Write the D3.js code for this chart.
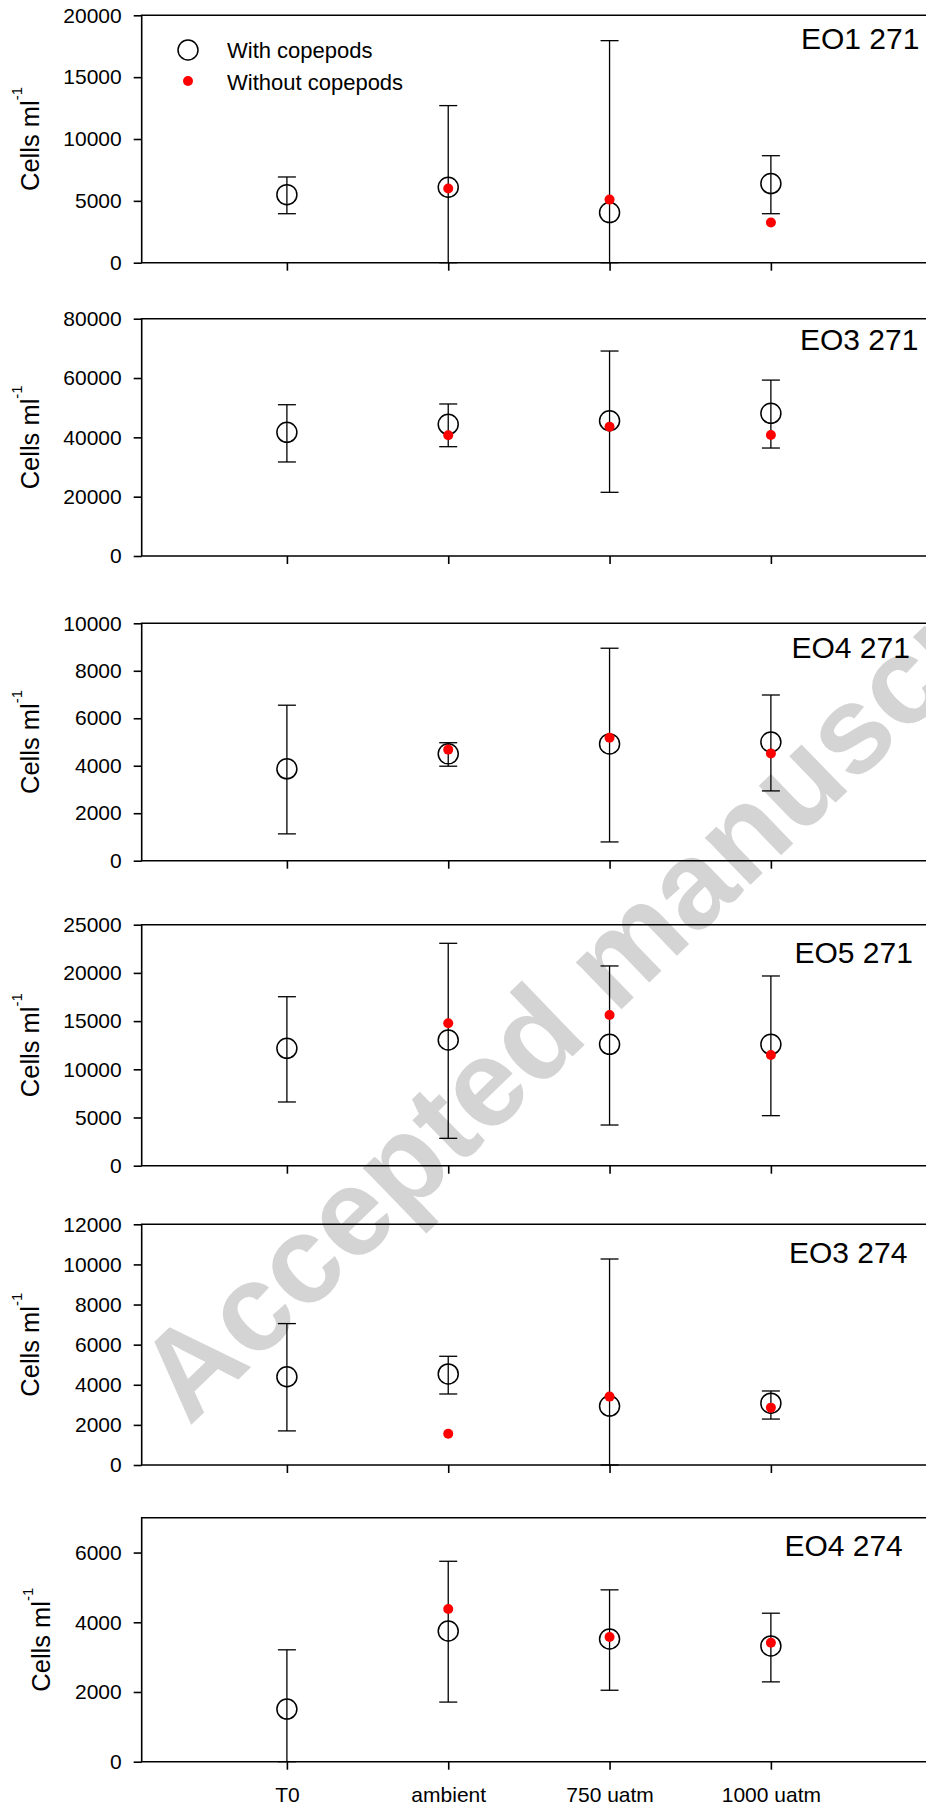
<!doctype html>
<html>
<head>
<meta charset="utf-8">
<title>Cells ml-1 by treatment</title>
<script src="https://cdn.jsdelivr.net/npm/d3@7/dist/d3.min.js"></script>
<style>
  html, body { margin: 0; padding: 0; background: #fff; }
  svg { display: block; }
  text { font-family: Arial, "Liberation Sans", sans-serif; fill: #000; }
</style>
</head>
<body>
<div id="chart"></div>
<script>
// values
const categories = ["T0", "ambient", "750 uatm", "1000 uatm"];
const panelNames = ["EO1 271", "EO3 271", "EO4 271", "EO5 271", "EO3 274", "EO4 274"];
const yMax = [20000, 80000, 10000, 25000, 12000, 7000];
const yStep = [5000, 20000, 2000, 5000, 2000, 2000];

const withCopepods = [
  [5500, 6100, 4050, 6400],
  [41700, 44400, 45600, 48100],
  [3870, 4500, 4920, 5000],
  [12180, 13040, 12590, 12590],
  [4400, 4540, 2940, 3080],
  [1510, 3750, 3520, 3320]
];
const withUpper = [
  [6930, 12700, 17950, 8650],
  [51000, 51250, 69100, 59300],
  [6550, 4970, 8950, 6980],
  [17530, 23070, 20720, 19680],
  [7050, 5420, 10270, 3690],
  [3210, 5750, 4930, 4260]
];
const withLower = [
  [3960, 0, 0, 3960],
  [31700, 36850, 21470, 36400],
  [1130, 3980, 790, 2940],
  [6610, 2840, 4220, 5190],
  [1700, 3540, 0, 2290],
  [0, 1710, 2050, 2290]
];
const withoutCopepods = [
  [null, 6000, 5100, 3250],
  [null, 40700, 43600, 40800],
  [null, 4680, 5180, 4520],
  [null, 14770, 15630, 11480],
  [null, 1560, 3410, 2860],
  [null, 4380, 3580, 3410]
];

// layout
const W = 926, H = 1809;
const axisLeft = 141.7;
const panelTop = [15.3, 318.7, 623.3, 924.7, 1224.3, 1517.7];
const panelBottom = [262.7, 556, 860.7, 1165.7, 1465, 1761.7];
const titlePos = [[801, 49.3], [800, 350], [791.5, 658.3], [794.5, 963.3], [789, 1263.3], [784.4, 1556]];

const svg = d3.select('#chart').append('svg')
  .attr('width', W)
  .attr('height', H);

// watermark sits behind the plots
svg.append('text')
  .attr('transform', 'translate(189,1427) rotate(-44)')
  .attr('font-size', 124)
  .attr('font-weight', 'bold')
  .style('fill', '#d4d4d4')
  .text('Accepted manuscript');

const x = d3.scaleLinear()
  .domain([0.1, 5])
  .range([axisLeft, axisLeft + 4.9 * 161.33]);

panelNames.forEach((name, p) => {
  const y = d3.scaleLinear()
    .domain([0, yMax[p]])
    .range([panelBottom[p], panelTop[p]]);

  const g = svg.append('g');
  const ticks = d3.range(0, yMax[p] + 1, yStep[p]);

  // y axis
  const yAxis = g.append('g')
    .attr('transform', `translate(${axisLeft},0)`)
    .call(d3.axisLeft(y).tickValues(ticks).tickSize(8).tickPadding(12).tickFormat(d3.format('d')));
  yAxis.select('.domain').remove();
  yAxis.selectAll('line').attr('stroke', '#000').attr('stroke-width', 1.6);
  yAxis.selectAll('text').attr('font-size', 21).attr('font-family', null);

  // x axis
  const xAxis = g.append('g')
    .attr('transform', `translate(0,${panelBottom[p]})`)
    .call(d3.axisBottom(x).tickValues([1, 2, 3, 4]).tickSize(8).tickPadding(17)
      .tickFormat(p === panelNames.length - 1 ? (d => categories[d - 1]) : () => ''));
  xAxis.select('.domain').remove();
  xAxis.selectAll('line').attr('stroke', '#000').attr('stroke-width', 1.6);
  xAxis.selectAll('text').attr('font-size', 21).attr('font-family', null);

  // frame (right side runs off the page)
  g.append('path')
    .attr('d', `M${x(5)},${y.range()[1]}H${axisLeft}V${y.range()[0]}H${x(5)}`)
    .attr('fill', 'none')
    .attr('stroke', '#000')
    .attr('stroke-width', 1.6);

  // y label placed from the widest tick label
  let maxW = 0;
  yAxis.selectAll('text').each(function () { maxW = Math.max(maxW, this.getBBox().width); });
  const labelX = axisLeft - 8 - 12 - maxW - 24.7;
  const yl = g.append('text')
    .attr('transform', `translate(${labelX},${(y.range()[0] + y.range()[1]) / 2}) rotate(-90)`)
    .attr('text-anchor', 'middle')
    .attr('font-size', 25.5);
  yl.append('tspan').text('Cells ml');
  yl.append('tspan').attr('font-size', 15).attr('dy', -17).text('-1');

  // panel title
  g.append('text')
    .attr('x', titlePos[p][0])
    .attr('y', titlePos[p][1])
    .attr('font-size', 30)
    .text(name);

  // error bars for "with copepods"
  const idx = d3.range(categories.length);
  const bars = g.append('g').attr('stroke', '#000').attr('stroke-width', 1.3);
  idx.forEach(i => {
    const cx = x(i + 1);
    const y1 = y(withUpper[p][i]), y0 = y(withLower[p][i]);
    bars.append('line').attr('x1', cx).attr('x2', cx).attr('y1', y1).attr('y2', y0);
    bars.append('line').attr('x1', cx - 9).attr('x2', cx + 9).attr('y1', y1).attr('y2', y1);
    bars.append('line').attr('x1', cx - 9).attr('x2', cx + 9).attr('y1', y0).attr('y2', y0);
  });

  g.append('g').selectAll('circle')
    .data(idx)
    .join('circle')
    .attr('cx', i => x(i + 1))
    .attr('cy', i => y(withCopepods[p][i]))
    .attr('r', 10)
    .attr('fill', 'none')
    .attr('stroke', '#000')
    .attr('stroke-width', 1.5);

  g.append('g').selectAll('circle')
    .data(idx.filter(i => withoutCopepods[p][i] != null))
    .join('circle')
    .attr('cx', i => x(i + 1))
    .attr('cy', i => y(withoutCopepods[p][i]))
    .attr('r', 5)
    .attr('fill', '#ff0000');
});

// legend in the first panel
const legend = svg.append('g');
legend.append('circle').attr('cx', 188).attr('cy', 50).attr('r', 10)
  .attr('fill', 'none').attr('stroke', '#000').attr('stroke-width', 1.5);
legend.append('circle').attr('cx', 188).attr('cy', 81).attr('r', 5).attr('fill', '#ff0000');
legend.append('text').attr('x', 227).attr('y', 58.3).attr('font-size', 22).text('With copepods');
legend.append('text').attr('x', 227).attr('y', 90).attr('font-size', 22).text('Without copepods');
</script>
</body>
</html>
